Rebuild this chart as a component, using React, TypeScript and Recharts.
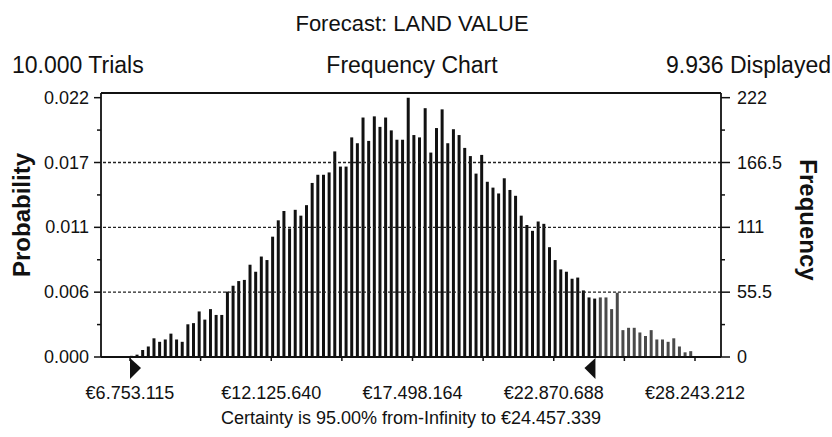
import React from 'react';
import { BarChart, Bar, XAxis, YAxis, ReferenceLine, ReferenceDot, Cell } from 'recharts';

// ---- data ----
const frequencies = [
  1, 2, 6, 9, 16, 13, 15, 20, 15, 13, 28, 29, 39, 32, 41, 36, 36, 56, 61, 65, 66, 79, 73, 86, 83,
  103, 117, 125, 110, 126, 121, 130, 149, 156, 156, 158, 176, 163, 163, 188, 183, 205, 185, 206, 197, 205, 194, 186, 186, 222, 190, 188,
  213, 175, 196, 212, 183, 195, 190, 179, 172, 157, 173, 150, 145, 140, 153, 143, 138, 121, 113, 108, 116, 114, 94, 83, 75, 73,
  67, 68, 57, 51, 50, 51, 51, 41, 55, 23, 25, 25, 21, 18, 23, 15, 15, 13, 16, 9, 4, 5,
];

const displayMin = 6753115;
const displayMax = 28243212;
const certaintyMarkers = [6753115, 24457339];

const xMajorTicks = [6753115, 12125640, 17498164, 22870688, 28243212];
const xMinorTicks = [9439378, 14811902, 20184426, 25556950];
const xTickLabels = ['€6.753.115', '€12.125.640', '€17.498.164', '€22.870.688', '€28.243.212'];

const freqAllTicks = [0, 27.75, 55.5, 83.25, 111, 138.75, 166.5, 194.25, 222];
const freqMajorTicks = [0, 55.5, 111, 166.5, 222];
const freqTickLabels = ['0', '55.5', '111', '166.5', '222'];
const probTickLabels = ['0.000', '0.006', '0.011', '0.017', '0.022'];
const gridValues = [55.5, 111, 166.5];

const titleText = 'Forecast: LAND VALUE';
const trialsText = '10.000 Trials';
const chartTypeText = 'Frequency Chart';
const displayedText = '9.936 Displayed';
const certaintyText = 'Certainty is 95.00% from-Infinity to €24.457.339';

const binWidth = (displayMax - displayMin) / frequencies.length;
const data = frequencies.map((f, i) => ({ value: displayMin + (i + 0.3) * binWidth, freq: f }));

const FONT = '"Liberation Sans", Arial, Helvetica, sans-serif';
const INK = '#111';

const LeftTick = (props: any) => {
  const { x, y, payload } = props;
  const idx = freqMajorTicks.indexOf(payload.value);
  const major = idx >= 0;
  return (
    <g>
      <line x1={x} x2={x - (major ? 7 : 4)} y1={y} y2={y} stroke={INK} strokeWidth={1.5} />
      {major && (
        <text x={x - 12} y={y} textAnchor="end" dominantBaseline="central" fontSize={18} fontFamily={FONT} fill={INK}>
          {probTickLabels[idx]}
        </text>
      )}
    </g>
  );
};

const RightTick = (props: any) => {
  const { x, y, payload } = props;
  const idx = freqMajorTicks.indexOf(payload.value);
  const major = idx >= 0;
  return (
    <g>
      <line x1={x} x2={x + (major ? 9 : 4)} y1={y} y2={y} stroke={INK} strokeWidth={1.5} />
      {major && (
        <text x={x + 16} y={y} textAnchor="start" dominantBaseline="central" fontSize={18} fontFamily={FONT} fill={INK}>
          {freqTickLabels[idx]}
        </text>
      )}
    </g>
  );
};

const BottomTick = (props: any) => {
  const { x, y, payload } = props;
  const idx = xMajorTicks.indexOf(payload.value);
  return (
    <g>
      <line x1={x} x2={x} y1={y} y2={y + 4} stroke={INK} strokeWidth={1.5} />
      {idx >= 0 && (
        <text x={x} y={y + 36} textAnchor="middle" dominantBaseline="central" fontSize={18} fontFamily={FONT} fill={INK}>
          {xTickLabels[idx]}
        </text>
      )}
    </g>
  );
};

const LeftMarker = (p: any) => (
  <path d={`M${p.cx},${p.cy + 1} L${p.cx},${p.cy + 22} L${p.cx + 11},${p.cy + 11} Z`} fill={INK} />
);
const RightMarker = (p: any) => (
  <path d={`M${p.cx},${p.cy + 1} L${p.cx},${p.cy + 22} L${p.cx - 11},${p.cy + 11} Z`} fill={INK} />
);

export default function App() {
  return (
    <div style={{ position: 'absolute', left: 0, top: 0, width: 832, height: 437, background: '#fff' }}>
      <BarChart
        width={832}
        height={437}
        data={data}
        margin={{ top: 93, right: 21, left: 21, bottom: 50 }}
        barCategoryGap={0}
      >
        <XAxis
          dataKey="value"
          type="number"
          domain={[5650000, 29232000]}
          allowDataOverflow
          ticks={[...xMajorTicks, ...xMinorTicks].sort((a, b) => a - b)}
          interval={0}
          tick={<BottomTick />}
          tickLine={false}
          tickSize={0}
          tickMargin={0}
          height={30}
          axisLine={{ stroke: INK, strokeWidth: 1.8 }}
        />
        <YAxis
          yAxisId="prob"
          orientation="left"
          type="number"
          domain={[0, 226]}
          allowDataOverflow
          ticks={freqAllTicks}
          interval={0}
          tick={<LeftTick />}
          tickLine={false}
          tickSize={0}
          tickMargin={0}
          width={80}
          axisLine={{ stroke: INK, strokeWidth: 1.8 }}
        />
        <YAxis
          yAxisId="freq"
          orientation="right"
          type="number"
          domain={[0, 226]}
          allowDataOverflow
          ticks={freqAllTicks}
          interval={0}
          tick={<RightTick />}
          tickLine={false}
          tickSize={0}
          tickMargin={0}
          width={90}
          axisLine={{ stroke: INK, strokeWidth: 1.8 }}
        />
        <Bar dataKey="freq" yAxisId="freq" barSize={3} isAnimationActive={false}>
          {data.map((d, i) => (
            <Cell key={i} fill={d.value > certaintyMarkers[1] ? '#4a4a4a' : INK} />
          ))}
        </Bar>
        {gridValues.map((g) => (
          <ReferenceLine key={g} y={g} yAxisId="freq" stroke="#222" strokeWidth={1.3} strokeDasharray="3 2" />
        ))}
        <ReferenceLine y={226} yAxisId="freq" stroke={INK} strokeWidth={1.8} />
        <ReferenceDot x={certaintyMarkers[0]} y={0} yAxisId="freq" r={0} ifOverflow="visible" shape={<LeftMarker />} />
        <ReferenceDot x={certaintyMarkers[1]} y={0} yAxisId="freq" r={0} ifOverflow="visible" shape={<RightMarker />} />
      </BarChart>
      <svg
        width={832}
        height={437}
        style={{ position: 'absolute', left: 0, top: 0, pointerEvents: 'none' }}
      >
        <g fontFamily={FONT} fill={INK}>
          <text x={412} y={23} textAnchor="middle" dominantBaseline="central" fontSize={22}>{titleText}</text>
          <text x={12} y={65} textAnchor="start" dominantBaseline="central" fontSize={23}>{trialsText}</text>
          <text x={412} y={65} textAnchor="middle" dominantBaseline="central" fontSize={23}>{chartTypeText}</text>
          <text x={831} y={65} textAnchor="end" dominantBaseline="central" fontSize={23}>{displayedText}</text>
          <text x={411} y={418} textAnchor="middle" dominantBaseline="central" fontSize={18}>{certaintyText}</text>
          <text transform="translate(21,215) rotate(-90)" textAnchor="middle" dominantBaseline="central" fontSize={24} fontWeight="bold">Probability</text>
          <text transform="translate(808,220) rotate(90)" textAnchor="middle" dominantBaseline="central" fontSize={24} fontWeight="bold">Frequency</text>
        </g>
      </svg>
    </div>
  );
}
